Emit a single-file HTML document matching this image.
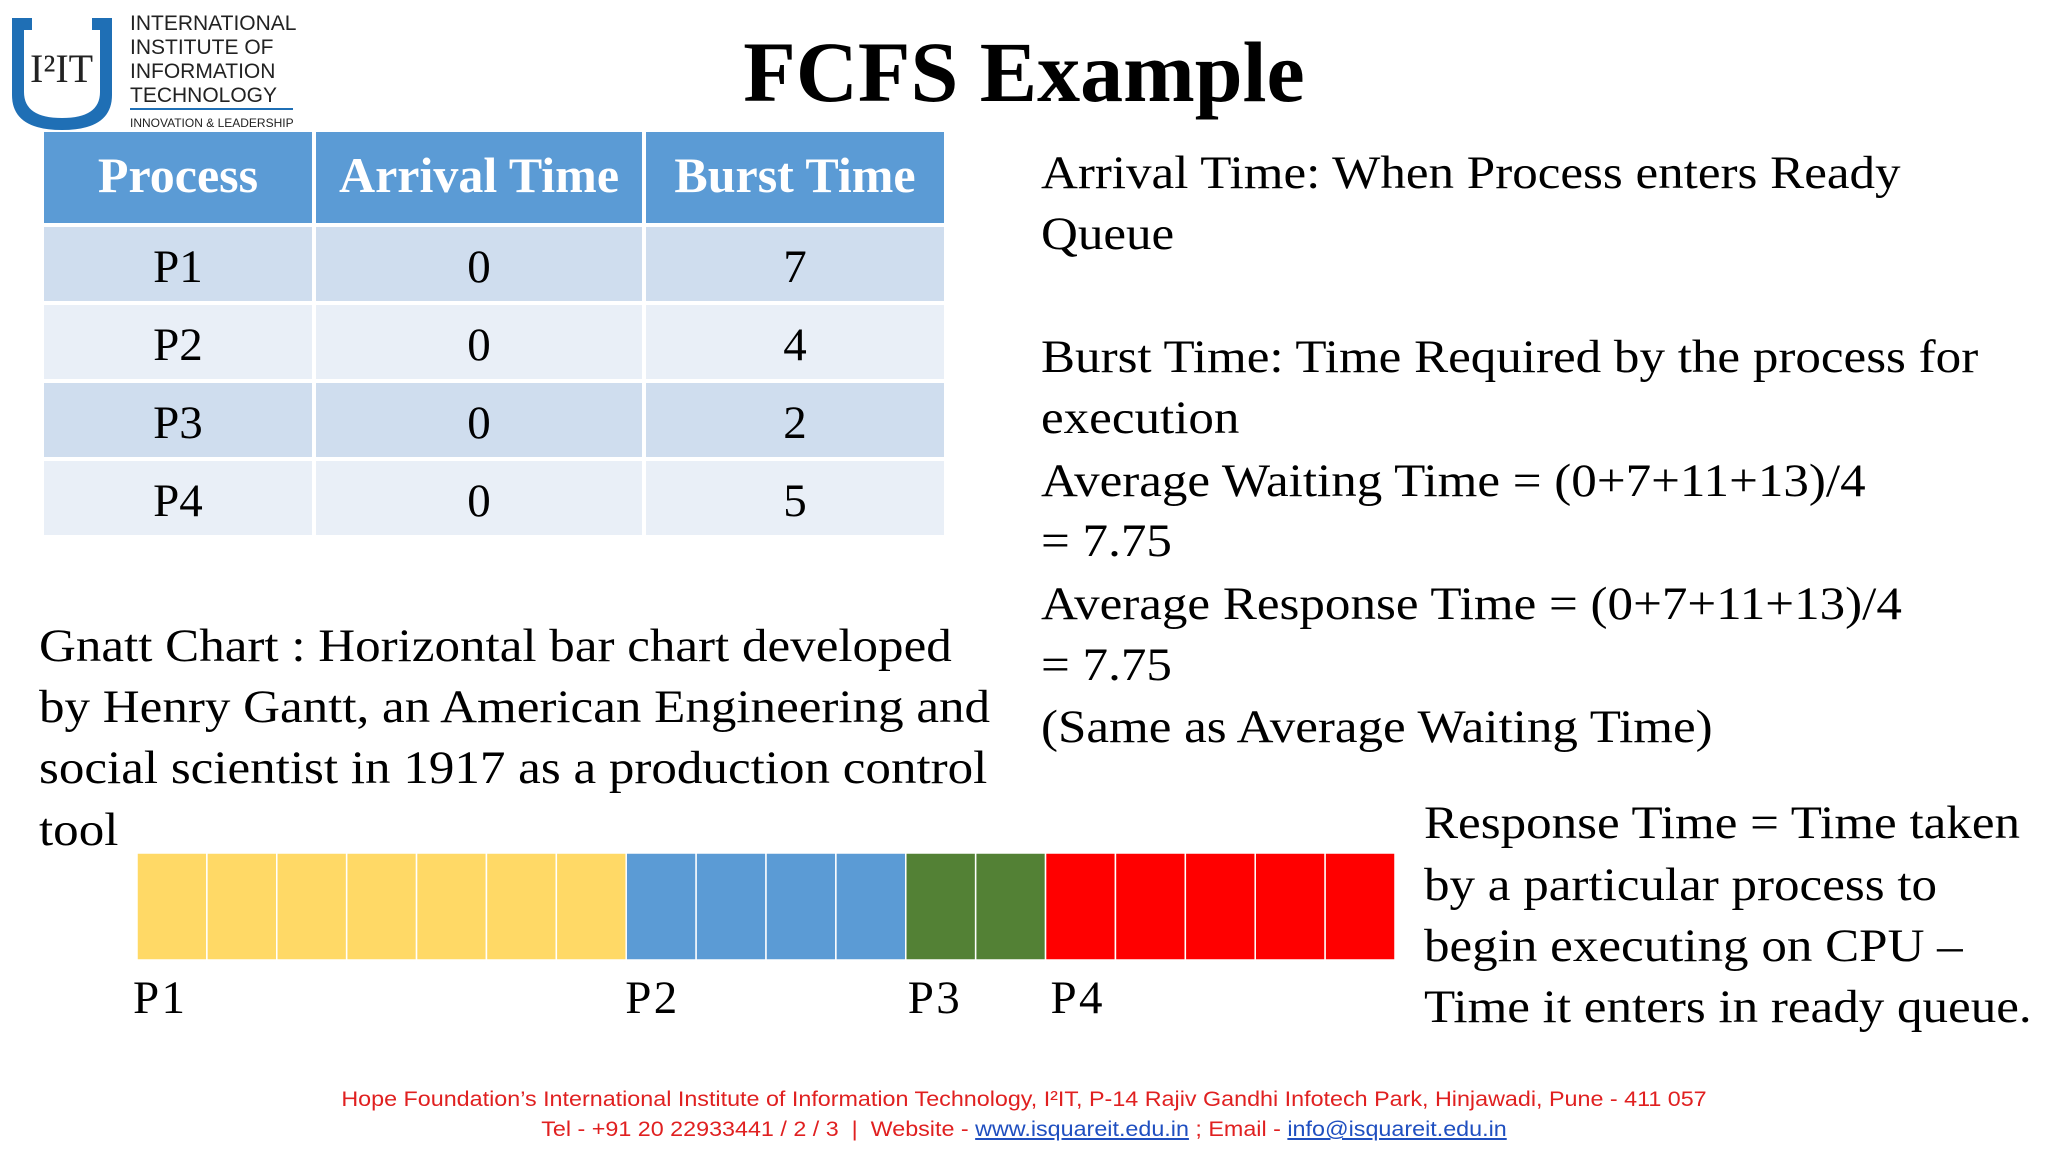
<!DOCTYPE html>
<html><head><meta charset="utf-8"><style>
body{margin:0;width:2048px;height:1152px;background:#fff;position:relative;overflow:hidden;font-family:"Liberation Serif",serif;}
.t{position:absolute;white-space:nowrap;color:#000;font-size:47px;line-height:1;transform:scaleX(1.086);transform-origin:0 0;}
table{position:absolute;left:44px;top:132px;border-collapse:separate;border-spacing:4px 4px;margin:-4px;}
td,th{text-align:center;font-size:47px;padding:0;}
td{padding-top:6px;}
th{background:#5B9BD5;color:#fff;font-weight:bold;font-size:50px;height:85px;padding-bottom:6px;}
tr.a td{background:#CFDDEE;height:68px}
tr.b td{background:#E9EFF7;height:68px}
.foot{position:absolute;left:0;width:2048px;text-align:center;font-family:"Liberation Sans",sans-serif;font-size:21px;color:#e02020;transform:scaleX(1.11);transform-origin:1024px 0;}
.foot a{color:#1f4fc0;text-decoration:underline}
</style></head><body>
<div style="position:absolute;left:0;top:0;width:303px;height:137px;">
<svg width="303" height="137">
<path d="M12 18 L12 95 Q12 130 62 130 Q112 130 112 95 L112 18 L92 18 L92 30 L100 30 L100 92 Q100 118 62 118 Q24 118 24 92 L24 30 L32 30 L32 18 Z" fill="#1f6fb5"/>
<text x="30" y="82" font-family="Liberation Serif" font-size="40" fill="#222">I²IT</text>
<text x="130" y="30" font-family="Liberation Sans" font-size="21" fill="#222">INTERNATIONAL</text>
<text x="130" y="54" font-family="Liberation Sans" font-size="21" fill="#222">INSTITUTE OF</text>
<text x="130" y="78" font-family="Liberation Sans" font-size="21" fill="#222">INFORMATION</text>
<text x="130" y="102" font-family="Liberation Sans" font-size="21" fill="#222">TECHNOLOGY</text>
<rect x="130" y="108" width="163" height="2" fill="#1f6fb5"/>
<text x="130" y="127" font-family="Liberation Sans" font-size="12" fill="#222">INNOVATION &amp; LEADERSHIP</text>
<rect x="130" y="132" width="163" height="2" fill="#1f6fb5"/>
</svg></div>
<div style="position:absolute;left:0;width:2048px;text-align:center;top:29px;font-size:86px;font-weight:bold;line-height:1;">FCFS Example</div>
<table>
<tr><th style="width:268px">Process</th><th style="width:326px">Arrival Time</th><th style="width:298px">Burst Time</th></tr>
<tr class="a"><td>P1</td><td>0</td><td>7</td></tr>
<tr class="b"><td>P2</td><td>0</td><td>4</td></tr>
<tr class="a"><td>P3</td><td>0</td><td>2</td></tr>
<tr class="b"><td>P4</td><td>0</td><td>5</td></tr>
</table>
<div>
<div class="t" style="left:1041px;top:150px">Arrival Time: When Process enters Ready</div>
<div class="t" style="left:1041px;top:211px">Queue</div>
<div class="t" style="left:1041px;top:334px">Burst Time: Time Required by the process for</div>
<div class="t" style="left:1041px;top:395px">execution</div>
<div class="t" style="left:1041px;top:458px">Average Waiting Time = (0+7+11+13)/4</div>
<div class="t" style="left:1041px;top:518px">= 7.75</div>
<div class="t" style="left:1041px;top:581px">Average Response Time = (0+7+11+13)/4</div>
<div class="t" style="left:1041px;top:642px">= 7.75</div>
<div class="t" style="left:1041px;top:704px">(Same as Average Waiting Time)</div>
</div>
<div>
<div class="t" style="left:39px;top:623px">Gnatt Chart : Horizontal bar chart developed</div>
<div class="t" style="left:39px;top:684px">by Henry Gantt, an American Engineering and</div>
<div class="t" style="left:39px;top:745px">social scientist in 1917 as a production control</div>
<div class="t" style="left:39px;top:807px">tool</div>
</div>
<div>
<div class="t" style="left:1424px;top:800px">Response Time = Time taken</div>
<div class="t" style="left:1424px;top:862px">by a particular process to</div>
<div class="t" style="left:1424px;top:923px">begin executing on CPU –</div>
<div class="t" style="left:1424px;top:984px">Time it enters in ready queue.</div>
</div>
<svg id="gantt" style="position:absolute;left:0;top:0" width="2048" height="1152"></svg>
<div class="foot" style="top:1088px">Hope Foundation’s International Institute of Information Technology, I²IT, P-14 Rajiv Gandhi Infotech Park, Hinjawadi, Pune - 411 057</div>
<div class="foot" style="top:1118px">Tel - +91 20 22933441 / 2 / 3 &nbsp;| &nbsp;Website - <a>www.isquareit.edu.in</a> ; Email - <a>info@isquareit.edu.in</a></div>
<script>
const processes=["P1","P2","P3","P4"];
const bursts=[7,4,2,5];
const colors=["#FFD966","#5B9BD5","#538135","#FF0000"];
const svg=document.getElementById('gantt');
const NS="http://www.w3.org/2000/svg";
const x0=137,x1=1395,yTop=853,yBot=960;
const total=bursts.reduce((a,b)=>a+b,0);
const xs=t=>x0+(x1-x0)*t/total;
let t=0;
processes.forEach((p,i)=>{
  for(let k=0;k<bursts[i];k++){
    const r=document.createElementNS(NS,'rect');
    
    
    r.setAttribute('x',xs(t+k));r.setAttribute('y',yTop);
    r.setAttribute('width',xs(t+k+1)-xs(t+k));r.setAttribute('height',yBot-yTop);
    r.setAttribute('fill',colors[i]);r.setAttribute('stroke','#fff');r.setAttribute('stroke-width','1.5');
    svg.appendChild(r);
  }
  const tx=document.createElementNS(NS,'text');
  
  
  tx.setAttribute('x',xs(t)-4+3*i);tx.setAttribute('y',1013);
  tx.setAttribute('font-family','Liberation Serif');tx.setAttribute('font-size','47');
  tx.setAttribute('textLength','52');
  tx.textContent=p;svg.appendChild(tx);
  t+=bursts[i];
});
</script>
</body></html>
